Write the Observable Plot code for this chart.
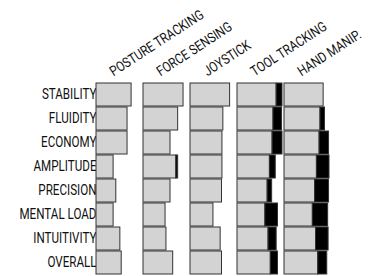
<!DOCTYPE html>
<html><head><meta charset="utf-8">
<script src="https://cdn.jsdelivr.net/npm/d3@7"></script>
<script src="https://cdn.jsdelivr.net/npm/@observablehq/plot@0.6"></script>
<style>html,body{margin:0;padding:0;background:#fff} svg{display:block}</style>
</head><body><div id="chart"></div>
<script>
const criteria = ["STABILITY","FLUIDITY","ECONOMY","AMPLITUDE","PRECISION","MENTAL LOAD","INTUITIVITY","OVERALL"];
const methods = ["POSTURE TRACKING","FORCE SENSING","JOYSTICK","TOOL TRACKING","HAND MANIP."];
const postureScores  = [7.8, 6.9, 6.9, 3.8, 4.4, 3.8, 5.3, 5.6];
const forceScores    = [8.9, 7.7, 6.0, 7.3, 6.0, 4.9, 5.1, 6.6];
const joystickScores = [8.8, 7.3, 7.1, 7.1, 7.0, 5.1, 6.7, 7.0];
const toolScores     = [8.7, 8.0, 7.8, 7.2, 6.7, 6.2, 6.9, 7.4];
const handScores     = [8.7, 8.0, 7.8, 7.2, 6.8, 6.3, 7.0, 7.5];
const postureExtra  = [0, 0, 0, 0, 0, 0, 0, 0];
const forceExtra    = [0, 0, 0, 0.4, 0, 0, 0, 0];
const joystickExtra = [0, 0, 0, 0, 0, 0, 0, 0];
const toolExtra     = [1.3, 1.9, 2.2, 1.3, 1.0, 2.8, 1.8, 1.6];
const handExtra     = [0, 1.0, 2.1, 2.8, 3.1, 3.4, 2.8, 2.0];

const scores = [postureScores, forceScores, joystickScores, toolScores, handScores];
const extras = [postureExtra, forceExtra, joystickExtra, toolExtra, handExtra];
const data = [];
methods.forEach((m, i) => criteria.forEach((c, j) => {
  data.push({method: m, criterion: c, part: "score", value: scores[i][j]});
  if (extras[i][j] > 0) data.push({method: m, criterion: c, part: "extra", value: extras[i][j]});
}));

const chart = Plot.plot({
  width: 370, height: 276,
  marginLeft: 96, marginRight: 41, marginTop: 82, marginBottom: 2,
  style: {fontFamily: "Roboto", fontSize: "14px", color: "#111", background: "#fff"},
  fx: {domain: methods, paddingInner: 0.0426, paddingOuter: 0, axis: null},
  y: {domain: criteria, paddingInner: 0.06, paddingOuter: 0.03, tickSize: 0, tickPadding: 0, label: null},
  x: {domain: [0, 10], axis: null},
  color: {domain: ["score", "extra"], range: ["#d3d3d3", "#000"]},
  marks: [
    Plot.barX(data, Plot.stackX({x: "value", y: "criterion", fx: "method", fill: "part", stroke: "#333", strokeWidth: 1, order: null})),
    Plot.text(methods, {fx: d => d, text: d => d, frameAnchor: "top-left", dx: 17, dy: -6, rotate: -33, textAnchor: "start", lineAnchor: "bottom", fontSize: 14, fill: "#111"})
  ]
});
// condensed lettering: squeeze text horizontally about its anchor
const squeeze = 0.83;
d3.select(chart).selectAll("text").each(function() {
  const tr = this.getAttribute("transform") || "";
  const x = parseFloat(this.getAttribute("x")) || 0;
  this.setAttribute("transform", `${tr} translate(${x},0) scale(${squeeze},1) translate(${-x},0)`);
});
document.getElementById("chart").appendChild(chart);
</script>
</body></html>
